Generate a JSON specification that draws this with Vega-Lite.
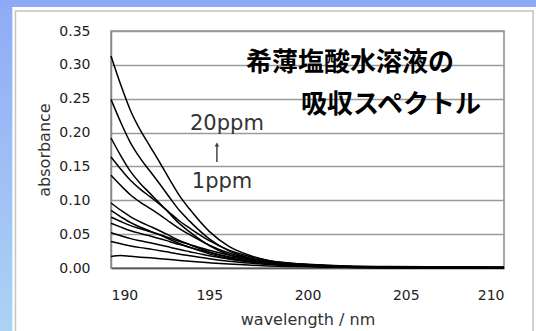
{
  "$schema": "https://vega.github.io/schema/vega-lite/v6.json",
  "width": 393,
  "height": 237,
  "autosize": "none",
  "padding": {"left": 111, "top": 31, "right": 32, "bottom": 63},
  "background": "#ffffff",
  "config": {
    "view": {"stroke": "#8a8a8a", "strokeWidth": 1.5},
    "axis": {"labelFont": "DejaVu Sans", "titleFont": "DejaVu Sans", "labelColor": "#222222", "titleColor": "#333333", "titleFontWeight": "normal"}
  },
  "resolve": {"axis": {"x": "independent", "y": "independent"}},
  "layer": [
    {
      "data": {"values": [
        {"c":1,"w":190,"a":0.313},{"c":1,"w":190.5,"a":0.2701},{"c":1,"w":191,"a":0.2319},{"c":1,"w":191.5,"a":0.2031},{"c":1,"w":192,"a":0.179},{"c":1,"w":192.5,"a":0.1549},{"c":1,"w":193,"a":0.1299},{"c":1,"w":193.5,"a":0.1061},{"c":1,"w":194,"a":0.087},{"c":1,"w":195,"a":0.0541},{"c":1,"w":196,"a":0.0319},{"c":1,"w":197,"a":0.0191},{"c":1,"w":198,"a":0.011},{"c":1,"w":199,"a":0.0066},{"c":1,"w":200,"a":0.004},{"c":1,"w":201,"a":0.0025},{"c":1,"w":202,"a":0.0016},{"c":1,"w":204,"a":0.0008},{"c":1,"w":207,"a":0.0005},{"c":1,"w":210,"a":0.0003},
        {"c":2,"w":190,"a":0.249},{"c":2,"w":190.5,"a":0.2149},{"c":2,"w":191,"a":0.1845},{"c":2,"w":191.5,"a":0.1616},{"c":2,"w":192,"a":0.1424},{"c":2,"w":192.5,"a":0.1233},{"c":2,"w":193,"a":0.1033},{"c":2,"w":193.5,"a":0.0844},{"c":2,"w":194,"a":0.0692},{"c":2,"w":195,"a":0.0431},{"c":2,"w":196,"a":0.0254},{"c":2,"w":197,"a":0.0152},{"c":2,"w":198,"a":0.0087},{"c":2,"w":199,"a":0.0052},{"c":2,"w":200,"a":0.0032},{"c":2,"w":201,"a":0.002},{"c":2,"w":202,"a":0.0012},{"c":2,"w":204,"a":0.0006},{"c":2,"w":207,"a":0.0004},{"c":2,"w":210,"a":0.0002},
        {"c":3,"w":190,"a":0.192},{"c":3,"w":190.5,"a":0.1657},{"c":3,"w":191,"a":0.1423},{"c":3,"w":191.5,"a":0.1246},{"c":3,"w":192,"a":0.1098},{"c":3,"w":192.5,"a":0.095},{"c":3,"w":193,"a":0.0797},{"c":3,"w":193.5,"a":0.0651},{"c":3,"w":194,"a":0.0534},{"c":3,"w":195,"a":0.0332},{"c":3,"w":196,"a":0.0196},{"c":3,"w":197,"a":0.0117},{"c":3,"w":198,"a":0.0067},{"c":3,"w":199,"a":0.004},{"c":3,"w":200,"a":0.0025},{"c":3,"w":201,"a":0.0015},{"c":3,"w":202,"a":0.001},{"c":3,"w":204,"a":0.0005},{"c":3,"w":207,"a":0.0003},{"c":3,"w":210,"a":0.0002},
        {"c":4,"w":190,"a":0.164},{"c":4,"w":190.5,"a":0.1458},{"c":4,"w":191,"a":0.1291},{"c":4,"w":191.5,"a":0.1161},{"c":4,"w":192,"a":0.105},{"c":4,"w":192.5,"a":0.0935},{"c":4,"w":193,"a":0.0812},{"c":4,"w":193.5,"a":0.069},{"c":4,"w":194,"a":0.0589},{"c":4,"w":195,"a":0.0403},{"c":4,"w":196,"a":0.0264},{"c":4,"w":197,"a":0.0175},{"c":4,"w":198,"a":0.0112},{"c":4,"w":199,"a":0.0075},{"c":4,"w":200,"a":0.005},{"c":4,"w":201,"a":0.0034},{"c":4,"w":202,"a":0.0024},{"c":4,"w":204,"a":0.0014},{"c":4,"w":207,"a":0.001},{"c":4,"w":210,"a":0.0007},
        {"c":5,"w":190,"a":0.137},{"c":5,"w":190.5,"a":0.1218},{"c":5,"w":191,"a":0.1078},{"c":5,"w":191.5,"a":0.097},{"c":5,"w":192,"a":0.0877},{"c":5,"w":192.5,"a":0.0781},{"c":5,"w":193,"a":0.0678},{"c":5,"w":193.5,"a":0.0577},{"c":5,"w":194,"a":0.0492},{"c":5,"w":195,"a":0.0337},{"c":5,"w":196,"a":0.0221},{"c":5,"w":197,"a":0.0147},{"c":5,"w":198,"a":0.0094},{"c":5,"w":199,"a":0.0062},{"c":5,"w":200,"a":0.0042},{"c":5,"w":201,"a":0.0029},{"c":5,"w":202,"a":0.002},{"c":5,"w":204,"a":0.0012},{"c":5,"w":207,"a":0.0008},{"c":5,"w":210,"a":0.0005},
        {"c":6,"w":190,"a":0.096},{"c":6,"w":190.5,"a":0.0853},{"c":6,"w":191,"a":0.0756},{"c":6,"w":191.5,"a":0.068},{"c":6,"w":192,"a":0.0614},{"c":6,"w":192.5,"a":0.0547},{"c":6,"w":193,"a":0.0475},{"c":6,"w":193.5,"a":0.0404},{"c":6,"w":194,"a":0.0345},{"c":6,"w":195,"a":0.0236},{"c":6,"w":196,"a":0.0155},{"c":6,"w":197,"a":0.0103},{"c":6,"w":198,"a":0.0066},{"c":6,"w":199,"a":0.0044},{"c":6,"w":200,"a":0.0029},{"c":6,"w":201,"a":0.002},{"c":6,"w":202,"a":0.0014},{"c":6,"w":204,"a":0.0008},{"c":6,"w":207,"a":0.0006},{"c":6,"w":210,"a":0.0004},
        {"c":7,"w":190,"a":0.085},{"c":7,"w":190.5,"a":0.0756},{"c":7,"w":191,"a":0.0669},{"c":7,"w":191.5,"a":0.0602},{"c":7,"w":192,"a":0.0544},{"c":7,"w":192.5,"a":0.0485},{"c":7,"w":193,"a":0.0421},{"c":7,"w":193.5,"a":0.0358},{"c":7,"w":194,"a":0.0305},{"c":7,"w":195,"a":0.0209},{"c":7,"w":196,"a":0.0137},{"c":7,"w":197,"a":0.0091},{"c":7,"w":198,"a":0.0058},{"c":7,"w":199,"a":0.0039},{"c":7,"w":200,"a":0.0026},{"c":7,"w":201,"a":0.0018},{"c":7,"w":202,"a":0.0012},{"c":7,"w":204,"a":0.0007},{"c":7,"w":207,"a":0.0005},{"c":7,"w":210,"a":0.0003},
        {"c":8,"w":190,"a":0.075},{"c":8,"w":190.5,"a":0.0686},{"c":8,"w":191,"a":0.0626},{"c":8,"w":191.5,"a":0.0579},{"c":8,"w":192,"a":0.0536},{"c":8,"w":192.5,"a":0.0492},{"c":8,"w":193,"a":0.0443},{"c":8,"w":193.5,"a":0.0392},{"c":8,"w":194,"a":0.0348},{"c":8,"w":195,"a":0.0262},{"c":8,"w":196,"a":0.0191},{"c":8,"w":197,"a":0.014},{"c":8,"w":198,"a":0.01},{"c":8,"w":199,"a":0.0074},{"c":8,"w":200,"a":0.0055},{"c":8,"w":201,"a":0.0041},{"c":8,"w":202,"a":0.0031},{"c":8,"w":204,"a":0.0021},{"c":8,"w":207,"a":0.0016},{"c":8,"w":210,"a":0.0012},
        {"c":9,"w":190,"a":0.066},{"c":9,"w":190.5,"a":0.0604},{"c":9,"w":191,"a":0.0551},{"c":9,"w":191.5,"a":0.051},{"c":9,"w":192,"a":0.0472},{"c":9,"w":192.5,"a":0.0433},{"c":9,"w":193,"a":0.0389},{"c":9,"w":193.5,"a":0.0345},{"c":9,"w":194,"a":0.0306},{"c":9,"w":195,"a":0.023},{"c":9,"w":196,"a":0.0168},{"c":9,"w":197,"a":0.0123},{"c":9,"w":198,"a":0.0088},{"c":9,"w":199,"a":0.0065},{"c":9,"w":200,"a":0.0048},{"c":9,"w":201,"a":0.0036},{"c":9,"w":202,"a":0.0027},{"c":9,"w":204,"a":0.0019},{"c":9,"w":207,"a":0.0014},{"c":9,"w":210,"a":0.001},
        {"c":10,"w":190,"a":0.052},{"c":10,"w":190.5,"a":0.0476},{"c":10,"w":191,"a":0.0434},{"c":10,"w":191.5,"a":0.0401},{"c":10,"w":192,"a":0.0372},{"c":10,"w":192.5,"a":0.0341},{"c":10,"w":193,"a":0.0307},{"c":10,"w":193.5,"a":0.0272},{"c":10,"w":194,"a":0.0241},{"c":10,"w":195,"a":0.0181},{"c":10,"w":196,"a":0.0132},{"c":10,"w":197,"a":0.0097},{"c":10,"w":198,"a":0.007},{"c":10,"w":199,"a":0.0051},{"c":10,"w":200,"a":0.0038},{"c":10,"w":201,"a":0.0029},{"c":10,"w":202,"a":0.0022},{"c":10,"w":204,"a":0.0015},{"c":10,"w":207,"a":0.0011},{"c":10,"w":210,"a":0.0008},
        {"c":11,"w":190,"a":0.039},{"c":11,"w":190.5,"a":0.0357},{"c":11,"w":191,"a":0.0326},{"c":11,"w":191.5,"a":0.0301},{"c":11,"w":192,"a":0.0279},{"c":11,"w":192.5,"a":0.0256},{"c":11,"w":193,"a":0.023},{"c":11,"w":193.5,"a":0.0204},{"c":11,"w":194,"a":0.0181},{"c":11,"w":195,"a":0.0136},{"c":11,"w":196,"a":0.0099},{"c":11,"w":197,"a":0.0073},{"c":11,"w":198,"a":0.0052},{"c":11,"w":199,"a":0.0038},{"c":11,"w":200,"a":0.0029},{"c":11,"w":201,"a":0.0022},{"c":11,"w":202,"a":0.0016},{"c":11,"w":204,"a":0.0011},{"c":11,"w":207,"a":0.0008},{"c":11,"w":210,"a":0.0006},
        {"c":12,"w":190,"a":0.017},{"c":12,"w":190.5,"a":0.0185},{"c":12,"w":191,"a":0.0172},{"c":12,"w":191.5,"a":0.016},{"c":12,"w":192,"a":0.015},{"c":12,"w":192.5,"a":0.0138},{"c":12,"w":193,"a":0.0125},{"c":12,"w":193.5,"a":0.0112},{"c":12,"w":194,"a":0.01},{"c":12,"w":195,"a":0.0078},{"c":12,"w":196,"a":0.0058},{"c":12,"w":197,"a":0.0043},{"c":12,"w":198,"a":0.0031},{"c":12,"w":199,"a":0.0023},{"c":12,"w":200,"a":0.0017},{"c":12,"w":201,"a":0.0013},{"c":12,"w":202,"a":0.001},{"c":12,"w":204,"a":0.0007},{"c":12,"w":207,"a":0.0005},{"c":12,"w":210,"a":0.0004}
      ]},
      "mark": {"type": "line", "color": "#000000", "strokeWidth": 1.5, "interpolate": "monotone"},
      "encoding": {
        "x": {"field": "w", "type": "quantitative", "scale": {"domain": [190, 210], "nice": false, "zero": false},
          "axis": {"orient": "bottom", "title": "wavelength / nm", "values": [190, 195, 200, 205, 210], "format": "d", "grid": false, "ticks": false, "tickSize": 0, "labelPadding": 20, "labelFontSize": 14, "titleFontSize": 16, "titlePadding": 9, "domainColor": "#555555", "domainWidth": 1.5}},
        "y": {"field": "a", "type": "quantitative", "scale": {"domain": [0, 0.35], "nice": false},
          "axis": {"orient": "left", "title": "absorbance", "values": [0, 0.05, 0.1, 0.15, 0.2, 0.25, 0.3, 0.35], "format": ".2f", "grid": true, "gridColor": "#9a9a9a", "gridWidth": 1.5, "ticks": false, "tickSize": 0, "labelPadding": 21, "labelFontSize": 14, "titleFontSize": 16, "titlePadding": 6, "domainColor": "#8a8a8a", "domainWidth": 1.5}},
        "detail": {"field": "c", "type": "nominal"}
      }
    },
    {
      "data": {"values": [{"x1": 184, "x2": 184.98, "y1": -0.1, "y2": 0.41}]},
      "mark": {"type": "rect", "clip": false, "color": {"gradient": "linear", "x1": 0, "y1": 0, "x2": 0, "y2": 1, "stops": [{"offset": 0, "color": "#8eaaf6"}, {"offset": 1, "color": "#acd3f4"}]}},
      "encoding": {
        "x": {"field": "x1", "type": "quantitative", "scale": {"domain": [190, 210], "nice": false, "zero": false}, "axis": null},
        "x2": {"field": "x2"},
        "y": {"field": "y1", "type": "quantitative", "scale": {"domain": [0, 0.35], "nice": false}, "axis": null},
        "y2": {"field": "y2"}
      }
    },
    {
      "data": {"values": [{"x1": 184, "x2": 212, "y1": 0.3854, "y2": 0.41}]},
      "mark": {"type": "rect", "clip": false, "color": "#8eaaf6"},
      "encoding": {
        "x": {"field": "x1", "type": "quantitative", "scale": {"domain": [190, 210], "nice": false, "zero": false}, "axis": null},
        "x2": {"field": "x2"},
        "y": {"field": "y1", "type": "quantitative", "scale": {"domain": [0, 0.35], "nice": false}, "axis": null},
        "y2": {"field": "y2"}
      }
    },
    {
      "data": {"values": [{"x1": 185.14, "x2": 211.48, "y1": -0.12, "y2": 0.3795}]},
      "mark": {"type": "rect", "clip": false, "fill": null, "fillOpacity": 0, "stroke": "#c4c4c4", "strokeWidth": 1.5},
      "encoding": {
        "x": {"field": "x1", "type": "quantitative", "scale": {"domain": [190, 210], "nice": false, "zero": false}, "axis": null},
        "x2": {"field": "x2"},
        "y": {"field": "y1", "type": "quantitative", "scale": {"domain": [0, 0.35], "nice": false}, "axis": null},
        "y2": {"field": "y2"}
      }
    },
    {
      "data": {"values": [{"t": "希薄塩酸水溶液の", "w": 202.16, "a": 0.3022}, {"t": "吸収スペクトル", "w": 204.25, "a": 0.2407}]},
      "mark": {"type": "text", "font": "Noto Sans CJK JP", "fontSize": 26, "fontWeight": "bold", "color": "#000000", "align": "center", "baseline": "middle"},
      "encoding": {
        "x": {"field": "w", "type": "quantitative", "scale": {"domain": [190, 210], "nice": false, "zero": false}, "axis": null},
        "y": {"field": "a", "type": "quantitative", "scale": {"domain": [0, 0.35], "nice": false}, "axis": null},
        "text": {"field": "t"}
      }
    },
    {
      "data": {"values": [{"t": "20ppm", "w": 195.9, "a": 0.2038}, {"t": "1ppm", "w": 195.65, "a": 0.1181}]},
      "mark": {"type": "text", "font": "DejaVu Sans", "fontSize": 21, "color": "#333333", "align": "center", "baseline": "alphabetic"},
      "encoding": {
        "x": {"field": "w", "type": "quantitative", "scale": {"domain": [190, 210], "nice": false, "zero": false}, "axis": null},
        "y": {"field": "a", "type": "quantitative", "scale": {"domain": [0, 0.35], "nice": false}, "axis": null},
        "text": {"field": "t"}
      }
    },
    {
      "data": {"values": [{"w": 195.39, "a1": 0.1566, "a2": 0.1835}]},
      "mark": {"type": "rule", "color": "#444444", "strokeWidth": 1.5},
      "encoding": {
        "x": {"field": "w", "type": "quantitative", "scale": {"domain": [190, 210], "nice": false, "zero": false}, "axis": null},
        "y": {"field": "a1", "type": "quantitative", "scale": {"domain": [0, 0.35], "nice": false}, "axis": null},
        "y2": {"field": "a2"}
      }
    },
    {
      "data": {"values": [{"w": 195.39, "a": 0.1825}]},
      "mark": {"type": "point", "shape": "triangle-up", "filled": true, "color": "#444444", "size": 22, "opacity": 1},
      "encoding": {
        "x": {"field": "w", "type": "quantitative", "scale": {"domain": [190, 210], "nice": false, "zero": false}, "axis": null},
        "y": {"field": "a", "type": "quantitative", "scale": {"domain": [0, 0.35], "nice": false}, "axis": null}
      }
    }
  ]
}
